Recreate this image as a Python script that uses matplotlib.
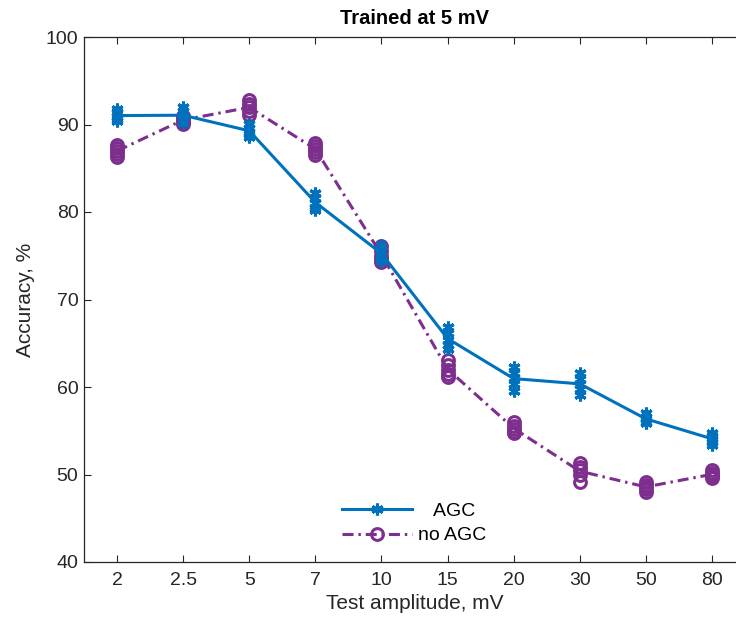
import numpy as np
import matplotlib
matplotlib.use("Agg")
import matplotlib.pyplot as plt
from matplotlib.lines import Line2D

plt.rcParams['font.family'] = ['Liberation Sans', 'DejaVu Sans']

amplitudes = ['2', '2.5', '5', '7', '10', '15', '20', '30', '50', '80']

# accuracy (%) of individual training runs at each test amplitude
agc_runs = [
    [91.8, 91.4, 90.9, 90.6, 90.4],
    [92.0, 91.5, 91.0, 90.6, 90.2],
    [90.1, 89.6, 89.2, 88.9, 88.6],
    [82.2, 81.6, 81.0, 80.5, 80.2],
    [76.2, 75.7, 75.2, 74.8, 74.4],
    [66.9, 66.2, 65.4, 64.8, 64.4],
    [62.3, 61.6, 61.0, 60.3, 59.6],
    [61.6, 60.9, 60.4, 59.8, 59.1],
    [57.0, 56.6, 56.3, 56.0, 55.9],
    [54.8, 54.4, 54.1, 53.7, 53.4],
]
noagc_runs = [
    [87.7, 87.3, 87.0, 86.6, 86.3],
    [91.0, 90.7, 90.5, 90.3, 90.1],
    [92.8, 92.3, 92.0, 91.6, 91.1],
    [87.9, 87.5, 87.2, 86.9, 86.5],
    [76.1, 75.6, 75.0, 74.6, 74.3],
    [63.1, 62.5, 62.0, 61.5, 61.1],
    [56.0, 55.6, 55.2, 54.9, 54.7],
    [51.3, 50.9, 50.5, 50.0, 49.2],
    [49.2, 48.8, 48.6, 48.3, 48.0],
    [50.5, 50.2, 50.0, 49.8, 49.6],
]

blue = '#0072BD'
purple = '#7E2F8E'
asterisk = (6, 2, 0)
dashdot = (0, (3.6, 1.6, 0.8, 1.6))

fig = plt.figure(figsize=(7.36, 6.26), dpi=100)
ax = fig.add_axes([84 / 736, 64 / 626, 661 / 736, 525 / 626])

x = np.arange(1, len(amplitudes) + 1)
agc_mean = np.array([np.mean(r) for r in agc_runs])
noagc_mean = np.array([np.mean(r) for r in noagc_runs])

ax.plot(x, agc_mean, color=blue, lw=2.2, zorder=3)
ax.plot(x, noagc_mean, color=purple, lw=2.2, ls=dashdot, zorder=2)

for xi, runs in zip(x, noagc_runs):
    ax.plot([xi] * len(runs), runs, ls='none', marker='o', ms=8.5, mfc='none',
            mec=purple, mew=2.2, zorder=2)
for xi, runs in zip(x, agc_runs):
    ax.plot([xi] * len(runs), runs, ls='none', marker=asterisk, ms=8.5,
            mec=blue, mew=2.2, zorder=3)

ax.set_xlim(0.5, 10.5)
ax.set_ylim(40, 100)
ax.set_xticks(x)
ax.set_xticklabels(amplitudes)
ax.set_yticks(np.arange(40, 101, 10))

ax.tick_params(direction='in', top=True, right=True, length=5, width=0.8,
               labelsize=14, colors='#262626', pad=4)
ax.tick_params(axis='x', pad=7)
for s in ax.spines.values():
    s.set_color('#262626')
    s.set_linewidth(0.9)

ax.set_xlabel('Test amplitude, mV', fontsize=15, color='#262626', labelpad=4)
ax.set_ylabel('Accuracy, %', fontsize=15, color='#262626', labelpad=8)
ax.set_title('Trained at 5 mV', fontsize=14.5, fontweight='bold', pad=9)

handles = [
    Line2D([], [], color=blue, lw=2.2, marker=asterisk, ms=8.5, mew=2.2, mec=blue),
    Line2D([], [], color=purple, lw=2.2, ls=dashdot, marker='o',
           ms=8.5, mfc='none', mec=purple, mew=2.2),
]
ax.legend(handles, ['   AGC', 'no AGC'], loc='lower center',
          bbox_to_anchor=(0.5, 0.0), frameon=False, fontsize=14,
          handlelength=3.6, handletextpad=0.3, labelspacing=0.35)

fig.savefig('out.png', dpi=100)
